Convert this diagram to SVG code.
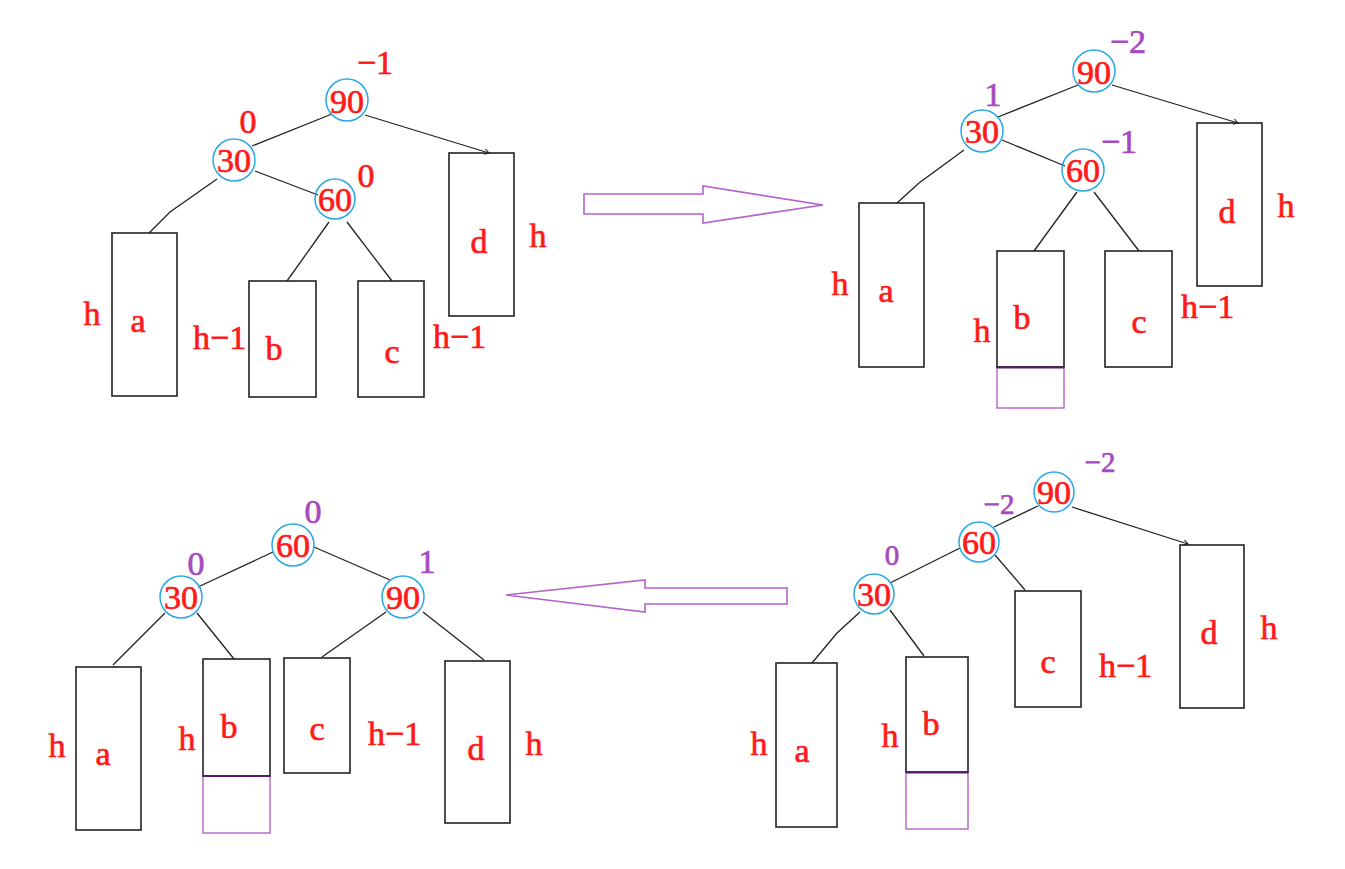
<svg xmlns="http://www.w3.org/2000/svg" width="1345" height="869" viewBox="0 0 1345 869">
  <style>
    .bg { fill: #ffffff; }
    .edge { stroke: #222222; stroke-width: 1.3; fill: none; }
    .node circle { fill: none; stroke: #2aa8e6; stroke-width: 1.5; }
    .box { fill: none; stroke: #222222; stroke-width: 1.6; }
    .ext { fill: none; stroke: #b463c8; stroke-width: 1.4; }
    .extTop { stroke: #5a1a6a; stroke-width: 2; }
    .big { fill: none; stroke: #b463c8; stroke-width: 1.6; stroke-linejoin: miter; }
    text { font-family: "Liberation Serif", "Times New Roman", serif; font-size: 34px; fill: #ff1a1a; stroke: #ff1a1a; stroke-width: 0.7; }
    .num { text-anchor: middle; }
    .mid { text-anchor: middle; }
    .bf { fill: #a64ac0; stroke: #a64ac0; }
    .bfs { fill: #a64ac0; stroke: #a64ac0; font-size: 29px; }
  </style>
  <defs>
    <marker id="tick" markerWidth="6" markerHeight="6" refX="5" refY="3" orient="auto" markerUnits="userSpaceOnUse">
      <path d="M0,0 L5,3 L0,6" fill="none" stroke="#222222" stroke-width="1"/>
    </marker>
  </defs>
  <rect class="bg" x="0" y="0" width="1345" height="869"/>

  <!-- ============ Panel 1: before insertion (top left) ============ -->
  <g id="p1-edges">
    <line class="edge" x1="332" y1="114" x2="252" y2="146"/>
    <line class="edge" x1="365" y1="115" x2="489" y2="153" marker-end="url(#tick)"/>
    <polyline class="edge" points="217,179 170,212 149,233"/>
    <line class="edge" x1="255" y1="171" x2="318" y2="195"/>
    <line class="edge" x1="329" y1="222" x2="287" y2="281"/>
    <line class="edge" x1="347" y1="222" x2="392" y2="281"/>
  </g>
  <g id="p1-n90" class="node"><circle cx="347" cy="100" r="21"/><text class="num" x="347" y="113">90</text><text class="mid" x="375" y="74">−1</text></g>
  <g id="p1-n30" class="node"><circle cx="234" cy="160" r="21"/><text class="num" x="234" y="172">30</text><text class="mid" x="248" y="133">0</text></g>
  <g id="p1-n60" class="node"><circle cx="335" cy="199" r="20"/><text class="num" x="335" y="211">60</text><text class="mid" x="366" y="187">0</text></g>
  <g id="p1-a"><rect class="box" x="112" y="233" width="65" height="163"/><text class="mid" x="138" y="332">a</text><text class="mid" x="92" y="325">h</text></g>
  <g id="p1-b"><rect class="box" x="249" y="281" width="67" height="116"/><text class="mid" x="274" y="360">b</text><text x="193" y="349">h−1</text></g>
  <g id="p1-c"><rect class="box" x="358" y="281" width="66" height="116"/><text class="mid" x="392" y="363">c</text><text x="433" y="348">h−1</text></g>
  <g id="p1-d"><rect class="box" x="449" y="153" width="65" height="163"/><text class="mid" x="479" y="253">d</text><text class="mid" x="538" y="247">h</text></g>

  <!-- arrow right -->
  <g id="arrow-right"><path class="big" d="M584,194 L703,194 L703,186 L823,205 L703,223 L703,214 L584,214 Z"/></g>

  <!-- ============ Panel 2: after insertion into b (top right) ============ -->
  <g id="p2-edges">
    <line class="edge" x1="1078" y1="85" x2="998" y2="117"/>
    <line class="edge" x1="1112" y1="85" x2="1238" y2="123" marker-end="url(#tick)"/>
    <polyline class="edge" points="964,150 919,183 897,203"/>
    <line class="edge" x1="1002" y1="140" x2="1065" y2="166"/>
    <line class="edge" x1="1077" y1="192" x2="1034" y2="251"/>
    <line class="edge" x1="1094" y1="192" x2="1139" y2="251"/>
  </g>
  <g id="p2-n90" class="node"><circle cx="1094" cy="71" r="21"/><text class="num" x="1094" y="84">90</text><text class="mid bf" x="1128" y="53">−2</text></g>
  <g id="p2-n30" class="node"><circle cx="982" cy="131" r="21"/><text class="num" x="982" y="143">30</text><text class="mid bf" x="993" y="106">1</text></g>
  <g id="p2-n60" class="node"><circle cx="1083" cy="170" r="21"/><text class="num" x="1083" y="182">60</text><text class="mid bf" x="1119" y="153">−1</text></g>
  <g id="p2-a"><rect class="box" x="859" y="203" width="65" height="164"/><text class="mid" x="886" y="302">a</text><text class="mid" x="840" y="295">h</text></g>
  <g id="p2-b"><rect class="ext" x="997" y="367" width="67" height="41"/><rect class="box" x="997" y="251" width="67" height="116"/><line class="extTop" x1="997" y1="367.5" x2="1064" y2="367.5"/><text class="mid" x="1022" y="329">b</text><text class="mid" x="982" y="342">h</text></g>
  <g id="p2-c"><rect class="box" x="1105" y="251" width="67" height="116"/><text class="mid" x="1139" y="333">c</text><text x="1181" y="318">h−1</text></g>
  <g id="p2-d"><rect class="box" x="1197" y="123" width="65" height="163"/><text class="mid" x="1227" y="223">d</text><text class="mid" x="1286" y="217">h</text></g>

  <!-- ============ Panel 3: double rotation pending (bottom right) ============ -->
  <g id="p3-edges">
    <line class="edge" x1="1038" y1="506" x2="994" y2="527"/>
    <line class="edge" x1="1072" y1="507" x2="1188" y2="544" marker-end="url(#tick)"/>
    <line class="edge" x1="960" y1="548" x2="890" y2="583"/>
    <line class="edge" x1="995" y1="555" x2="1025" y2="590"/>
    <polyline class="edge" points="860,612 837,633 812,663"/>
    <line class="edge" x1="890" y1="610" x2="924" y2="656"/>
  </g>
  <g id="p3-n90" class="node"><circle cx="1054" cy="492" r="20"/><text class="num" x="1054" y="504">90</text><text class="mid bfs" x="1100" y="472">−2</text></g>
  <g id="p3-n60" class="node"><circle cx="979" cy="542" r="20"/><text class="num" x="979" y="554">60</text><text class="mid bfs" x="999" y="514">−2</text></g>
  <g id="p3-n30" class="node"><circle cx="874" cy="594" r="20"/><text class="num" x="874" y="606">30</text><text class="mid bfs" x="892" y="565">0</text></g>
  <g id="p3-a"><rect class="box" x="776" y="663" width="61" height="164"/><text class="mid" x="802" y="762">a</text><text class="mid" x="759" y="755">h</text></g>
  <g id="p3-b"><rect class="ext" x="906" y="772" width="62" height="57"/><rect class="box" x="906" y="657" width="62" height="115"/><line class="extTop" x1="906" y1="772.5" x2="968" y2="772.5"/><text class="mid" x="931" y="735">b</text><text class="mid" x="890" y="747">h</text></g>
  <g id="p3-c"><rect class="box" x="1015" y="591" width="66" height="116"/><text class="mid" x="1048" y="673">c</text><text x="1099" y="677">h−1</text></g>
  <g id="p3-d"><rect class="box" x="1180" y="545" width="64" height="163"/><text class="mid" x="1209" y="644">d</text><text class="mid" x="1269" y="639">h</text></g>

  <!-- arrow left -->
  <g id="arrow-left"><path class="big" d="M787,588 L645,588 L645,580 L506,595 L645,612 L645,604 L787,604 Z"/></g>

  <!-- ============ Panel 4: balanced result (bottom left) ============ -->
  <g id="p4-edges">
    <line class="edge" x1="273" y1="552" x2="198" y2="587"/>
    <line class="edge" x1="314" y1="547" x2="390" y2="580"/>
    <line class="edge" x1="165" y1="613" x2="113" y2="665"/>
    <line class="edge" x1="197" y1="613" x2="234" y2="659"/>
    <line class="edge" x1="386" y1="612" x2="322" y2="657"/>
    <line class="edge" x1="423" y1="612" x2="484" y2="660"/>
  </g>
  <g id="p4-n60" class="node"><circle cx="293" cy="545" r="21"/><text class="num" x="293" y="557">60</text><text class="mid bf" x="313" y="523">0</text></g>
  <g id="p4-n30" class="node"><circle cx="181" cy="597" r="21"/><text class="num" x="181" y="609">30</text><text class="mid bf" x="196" y="575">0</text></g>
  <g id="p4-n90" class="node"><circle cx="403" cy="597" r="21"/><text class="num" x="403" y="609">90</text><text class="mid bf" x="427" y="573">1</text></g>
  <g id="p4-a"><rect class="box" x="76" y="667" width="65" height="163"/><text class="mid" x="103" y="765">a</text><text class="mid" x="57" y="757">h</text></g>
  <g id="p4-b"><rect class="ext" x="203" y="776" width="67" height="57"/><rect class="box" x="203" y="659" width="67" height="117"/><line class="extTop" x1="203" y1="776" x2="270" y2="776"/><text class="mid" x="229" y="738">b</text><text class="mid" x="187" y="750">h</text></g>
  <g id="p4-c"><rect class="box" x="284" y="658" width="66" height="115"/><text class="mid" x="317" y="740">c</text><text x="368" y="745">h−1</text></g>
  <g id="p4-d"><rect class="box" x="445" y="661" width="65" height="162"/><text class="mid" x="476" y="760">d</text><text class="mid" x="534" y="755">h</text></g>
</svg>
